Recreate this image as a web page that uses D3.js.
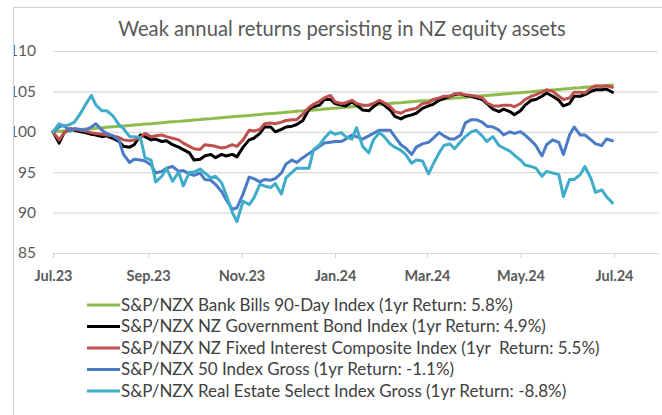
<!DOCTYPE html>
<html>
<head>
<meta charset="utf-8">
<script src="https://cdn.jsdelivr.net/npm/d3@7"></script>
<style>
  body { margin: 0; background: #fff; }
  svg { display: block; font-family: Lato, "Open Sans", sans-serif; }
</style>
</head>
<body>
<div id="chart"></div>
<script>
var bankBills = [100.00,100.06,100.11,100.17,100.23,100.28,100.34,100.39,100.45,100.51,
  100.56,100.62,100.68,100.73,100.79,100.84,100.90,100.96,101.01,101.07,
  101.13,101.18,101.24,101.29,101.35,101.41,101.46,101.52,101.58,101.63,
  101.69,101.75,101.80,101.86,101.91,101.97,102.03,102.08,102.14,102.20,
  102.25,102.31,102.36,102.42,102.48,102.53,102.59,102.65,102.70,102.76,
  102.82,102.87,102.93,102.98,103.04,103.10,103.15,103.21,103.27,103.32,
  103.38,103.43,103.49,103.55,103.60,103.66,103.72,103.77,103.83,103.88,
  103.94,104.00,104.05,104.11,104.17,104.22,104.28,104.34,104.39,104.45,
  104.50,104.56,104.62,104.67,104.73,104.79,104.84,104.90,104.95,105.01,
  105.07,105.12,105.18,105.24,105.29,105.35,105.41,105.46,105.52,105.57,
  105.63,105.69,105.74,105.80];
var govBond = [100.0,98.6,99.8,100.4,100.2,100.0,99.9,99.7,99.6,99.4,
  99.5,99.2,98.8,98.2,98.1,98.4,99.6,99.4,99.0,99.1,
  98.8,98.9,98.4,98.1,97.8,97.4,96.5,96.6,97.0,97.2,
  96.8,97.2,97.0,97.2,96.9,98.1,99.0,99.2,99.8,100.6,
  100.6,100.0,100.3,100.6,100.7,100.9,101.4,102.8,103.1,103.3,
  104.0,104.0,103.5,103.3,103.2,103.7,103.3,102.7,102.6,103.1,
  103.7,103.3,102.7,101.9,101.6,101.9,102.1,102.3,102.9,103.2,
  103.4,103.9,104.1,104.4,104.6,104.7,104.5,104.4,104.2,104.0,
  103.5,102.8,102.5,102.8,102.5,102.1,102.6,103.3,103.9,104.0,
  104.4,104.8,104.4,103.9,103.2,103.5,104.4,104.4,104.6,105.0,
  105.2,105.2,105.3,104.9];
var fixedInterest = [100.0,99.0,99.8,100.4,100.3,100.2,100.1,99.9,99.8,99.7,
  99.6,99.5,99.3,99.0,98.9,99.0,99.3,99.8,99.4,99.5,
  99.6,99.4,99.2,99.0,98.6,98.2,97.9,97.8,98.4,98.3,
  98.2,98.0,98.1,98.4,98.2,99.0,100.2,100.1,100.3,101.0,
  101.1,101.0,101.2,101.4,101.5,101.5,102.2,103.0,103.4,103.8,
  104.2,104.5,103.7,103.5,103.6,103.9,103.5,103.3,103.3,103.5,
  103.9,103.6,103.1,102.5,102.3,102.6,102.8,102.9,103.5,103.6,
  104.0,104.2,104.4,104.4,104.7,104.7,104.6,104.5,104.4,104.2,
  103.6,103.2,103.2,103.3,103.3,103.1,103.5,104.0,104.4,104.6,
  104.9,105.2,105.0,104.4,104.0,104.2,104.9,104.9,104.8,105.4,
  105.7,105.6,105.7,105.5];
var nzx50 = [100.0,100.6,100.8,100.1,100.4,100.3,100.2,100.6,101.0,100.2,
  99.8,99.5,99.0,97.2,96.2,96.6,96.5,96.4,95.9,94.9,
  95.1,95.5,95.7,95.1,95.2,94.8,94.6,94.9,94.1,94.0,
  93.5,92.6,91.6,90.4,90.6,92.3,94.4,94.2,93.8,94.1,
  94.0,94.2,94.9,96.0,96.5,96.2,96.8,97.3,97.7,98.2,
  98.6,98.7,98.8,98.8,99.1,99.6,99.4,99.1,99.5,99.8,
  100.2,100.2,100.2,99.4,98.4,98.0,97.2,98.1,98.5,98.7,
  99.2,99.9,99.5,99.1,99.1,99.6,101.1,101.5,101.5,101.2,
  100.7,100.6,100.2,99.6,100.0,99.8,100.0,99.6,98.9,98.3,
  97.0,98.4,99.0,98.7,97.2,99.6,100.6,99.6,99.6,99.0,
  98.5,98.3,99.1,98.9];
var realEstate = [100.0,101.0,100.7,100.9,101.2,102.3,103.3,104.5,103.3,102.6,
  102.6,102.0,100.9,100.4,99.4,99.4,99.3,96.8,96.5,93.8,
  94.5,95.5,93.9,95.0,93.3,95.0,95.0,95.4,94.9,94.3,
  94.5,93.7,92.2,90.0,88.9,91.4,91.0,91.8,93.5,93.3,
  93.1,93.6,92.3,94.3,95.0,95.5,95.5,95.5,97.8,98.4,
  99.2,100.0,99.7,99.9,99.4,99.1,100.5,98.2,97.4,99.0,
  99.9,99.4,98.5,98.1,97.7,97.2,96.1,96.5,96.4,94.8,
  96.0,97.4,98.3,98.5,97.9,98.8,99.4,100.0,100.2,99.5,
  98.8,99.4,98.3,98.0,97.6,97.1,96.5,95.9,95.7,95.5,
  94.5,95.1,94.9,94.7,92.0,94.1,94.1,94.7,95.7,94.2,
  92.5,92.8,92.0,91.2];

var seriesNames = [
  "S&P/NZX Bank Bills 90-Day Index (1yr Return: 5.8%)",
  "S&P/NZX NZ Government Bond Index (1yr Return: 4.9%)",
  "S&P/NZX NZ Fixed Interest Composite Index (1yr  Return: 5.5%)",
  "S&P/NZX 50 Index Gross (1yr Return: -1.1%)",
  "S&P/NZX Real Estate Select Index Gross (1yr Return: -8.8%)"
];
var seriesColors = ["#8dbb4c", "#000000", "#c0504d", "#4a7bc4", "#3fadca"];
var yTicks = [85, 90, 95, 100, 105, 110];
var chartTitle = "Weak annual returns persisting in NZ equity assets";

var startDate = new Date(2023, 6, 1);
var endDate = new Date(2024, 6, 1);
var dates = bankBills.map(function(d, i) {
  return d3.timeDay.offset(startDate, Math.round(i * 365 / (bankBills.length - 1)));
});
var allSeries = [bankBills, govBond, fixedInterest, nzx50, realEstate];

var W = 662, H = 415;
var plot = { left: 53, right: 658, top: 51, bottom: 253, dataRight: 614 };

var svg = d3.select("#chart").append("svg")
    .attr("width", W)
    .attr("height", H);

// scale text so it spans the same width as in the original chart
function fitWidth(sel, target) {
  var w = sel.node().getComputedTextLength();
  var fs = parseFloat(sel.attr("font-size"));
  var size = fs * target / w;
  sel.attr("font-size", size);
  return size;
}

var x = d3.scaleTime().domain([startDate, endDate]).range([plot.left, plot.dataRight]);
var xAxisScale = x.copy().domain([startDate, x.invert(plot.right)]).range([plot.left, plot.right]);
var y = d3.scaleLinear().domain([85, 110]).range([plot.bottom, plot.top]);

// gridlines + y labels
var yAxis = svg.append("g")
    .attr("class", "y axis")
    .attr("transform", "translate(" + plot.left + ",0)")
    .call(d3.axisLeft(y).tickValues(yTicks).tickSize(-(plot.right - plot.left)).tickPadding(17).tickFormat(d3.format("d")));
yAxis.select(".domain").remove();
yAxis.selectAll(".tick line").attr("stroke", "#d9d9d9").attr("stroke-width", 1.2);
yAxis.selectAll(".tick text")
    .attr("fill", "#595959")
    .attr("font-size", 17)
    .attr("font-family", "Lato, sans-serif");
var ySize = fitWidth(yAxis.selectAll(".tick text").filter(function(d) { return d === 85; }), 18);
yAxis.selectAll(".tick text").attr("font-size", ySize);

// x axis
var xAxis = svg.append("g")
    .attr("class", "x axis")
    .attr("transform", "translate(0," + plot.bottom + ")")
    .call(d3.axisBottom(xAxisScale)
      .tickValues(d3.timeMonth.every(2).range(startDate, d3.timeDay.offset(endDate, 1)))
      .tickSize(5)
      .tickSizeOuter(0)
      .tickFormat(d3.timeFormat("%b.%y")));
xAxis.select(".domain").attr("stroke", "#d9d9d9").attr("stroke-width", 1.2);
xAxis.selectAll(".tick line").attr("stroke", "#d0d0d0");
xAxis.selectAll(".tick text")
    .attr("y", 22.5)
    .attr("dy", "0.35em")
    .attr("fill", "#595959")
    .attr("font-weight", "bold")
    .attr("font-size", 14)
    .attr("font-family", "Lato, sans-serif");
var xSize = fitWidth(xAxis.select(".tick text"), 38);
xAxis.selectAll(".tick text").attr("font-size", xSize);

// lines
var line = d3.line()
    .x(function(d, i) { return x(dates[i]); })
    .y(function(d) { return y(d); });

svg.append("g").selectAll("path")
    .data(allSeries)
  .enter().append("path")
    .attr("d", line)
    .attr("fill", "none")
    .attr("stroke", function(d, i) { return seriesColors[i]; })
    .attr("stroke-width", 3)
    .attr("stroke-linejoin", "round")
    .attr("stroke-linecap", "round");

// title
var title = svg.append("text")
    .attr("x", 342)
    .attr("y", 36)
    .attr("text-anchor", "middle")
    .attr("fill", "#595959")
    .attr("font-size", 20)
    .text(chartTitle);
fitWidth(title, 448);

// legend
var legend = svg.append("g").attr("class", "legend");
var item = legend.selectAll("g")
    .data(seriesNames)
  .enter().append("g")
    .attr("transform", function(d, i) { return "translate(0," + (305 + i * 21.5) + ")"; });
item.append("line")
    .attr("x1", 87).attr("x2", 120)
    .attr("stroke", function(d, i) { return seriesColors[i]; })
    .attr("stroke-width", 3);
var legendText = item.append("text")
    .attr("x", 121)
    .attr("dy", "0.35em")
    .attr("fill", "#404040")
    .attr("font-size", 16)
    .style("white-space", "pre")
    .text(function(d) { return d; });
var lSize = fitWidth(d3.select(legendText.nodes()[0]), 392);
legendText.attr("font-size", lSize);

// chart area frame, cropped on the left like the original
svg.append("rect").attr("x", 0).attr("y", 0).attr("width", 13).attr("height", H).attr("fill", "#fff");
svg.append("line").attr("x1", 13.5).attr("x2", 13.5).attr("y1", 7.5).attr("y2", H)
    .attr("stroke", "#d0d0d0");
svg.append("line").attr("x1", 13).attr("x2", W).attr("y1", 7.5).attr("y2", 7.5)
    .attr("stroke", "#d0d0d0");
</script>
</body>
</html>
